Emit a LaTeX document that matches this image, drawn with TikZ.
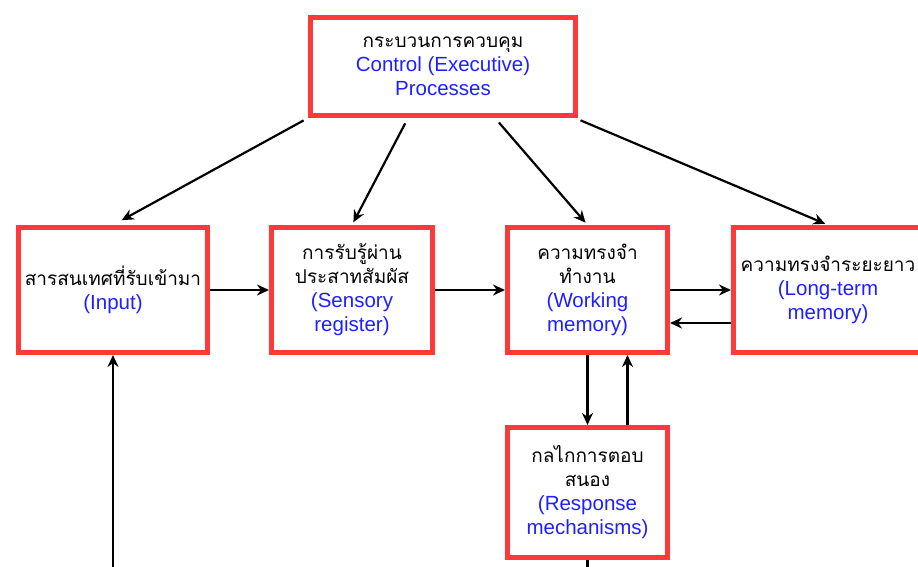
\documentclass[tikz,border=0pt]{standalone}
\usepackage{fontspec}
\setmainfont{Liberation Sans}
\newfontfamily\thaifont[Script=Thai]{Loma}
\usepackage{xcolor}
\usetikzlibrary{arrows.meta}
\usetikzlibrary{calc}

\definecolor{boxred}{HTML}{FF3838}
\definecolor{engblue}{HTML}{2020FF}
\newcommand{\thaitxt}[1]{{\thaifont\fontsize{19}{24}\selectfont #1}}
\newcommand{\entxt}[1]{\textcolor{engblue}{#1}}

\tikzset{
  stage/.style={draw=boxred, line width=5pt, fill=white, align=center, inner sep=2pt,
    font=\fontsize{20.5}{24}\selectfont},
  flow/.style={line width=2.2pt, -{Stealth[length=12pt,width=11pt]}},
}

\begin{document}
\begin{tikzpicture}[x=1pt,y=-1pt]
  \useasboundingbox (0,0) rectangle (918,567);
  \node[stage, minimum width=265pt, minimum height=98pt] (control) at (443,66.5)
    {\thaitxt{กระบวนการควบคุม}\\\entxt{Control (Executive)}\\\entxt{Processes}};
  \node[stage, minimum width=189pt, minimum height=125pt] (input) at (113,290)
    {\thaitxt{สารสนเทศที่รับเข้ามา}\\\entxt{(Input)}};
  \node[stage, minimum width=161pt, minimum height=125pt] (sensory) at (352,290)
    {\thaitxt{การรับรู้ผ่าน}\\\thaitxt{ประสาทสัมผัส}\\\entxt{(Sensory}\\\entxt{register)}};
  \node[stage, minimum width=160pt, minimum height=125pt] (working) at (587.5,290)
    {\thaitxt{ความทรงจำ}\\\thaitxt{ทำงาน}\\\entxt{(Working}\\\entxt{memory)}};
  \node[stage, minimum width=189pt, minimum height=125pt] (longterm) at (828,290)
    {\thaitxt{ความทรงจำระยะยาว}\\\entxt{(Long-term}\\\entxt{memory)}};
  \node[stage, minimum width=160pt, minimum height=130pt] (response) at (587.5,492.5)
    {\thaitxt{กลไกการตอบ}\\\thaitxt{สนอง}\\\entxt{(Response}\\\entxt{mechanisms)}};
  \coordinate (feedin) at (113,567);
  \coordinate (feedout) at (587.5,567);

  \draw[flow, shorten <=5pt, shorten >=10pt] (control.south west) -- (input.north);
  \draw[flow, shorten <=6pt, shorten >=3pt] ($(control.south)+(-35,0)$) -- (sensory.north);
  \draw[flow, shorten <=6pt, shorten >=3pt] ($(control.south)+(52,0)$) -- (working.north);
  \draw[flow, shorten <=6pt, shorten >=3pt] ($(control.south east)+(-3,0)$) -- (longterm.north);
  \draw[flow] (input.east) -- (sensory.west);
  \draw[flow] (sensory.east) -- (working.west);
  \draw[flow] (working.east) -- (longterm.west);
  \draw[flow] ($(longterm.west)+(0,33)$) -- ($(working.east)+(0,33)$);
  \draw[flow] (working.south) -- (response.north);
  \draw[flow] ($(response.north)+(40,0)$) -- ($(working.south)+(40,0)$);
  \draw[flow] (feedin) -- (input.south);
  \draw[line width=2.2pt] (response.south) -- (feedout);
\end{tikzpicture}
\end{document}
